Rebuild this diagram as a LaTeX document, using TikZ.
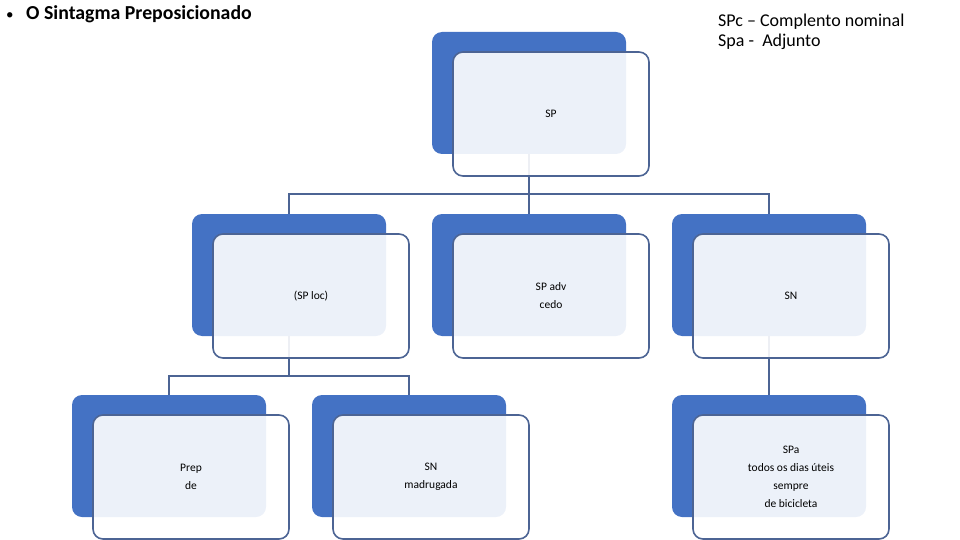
\documentclass[tikz,border=0pt]{standalone}
\usepackage{fontspec}
\setmainfont{Carlito}
\usetikzlibrary{calc}
\definecolor{accblue}{RGB}{68,114,196}
\definecolor{lineblue}{RGB}{76,100,148}
\begin{document}
\begin{tikzpicture}[x=1pt,y=-1pt,
  bluebox/.style={fill=accblue,draw=none,rounded corners=10pt,minimum width=194pt,minimum height=122pt,inner sep=0pt},
  frontbox/.style={fill=white,fill opacity=0.9,text opacity=1,draw=lineblue,line width=1.6pt,rounded corners=10pt,minimum width=196pt,minimum height=124pt,inner sep=0pt,align=center,font=\fontsize{11.5}{18}\selectfont},
  conn/.style={draw=lineblue,line width=1.6pt}]
\useasboundingbox (0,0) rectangle (960,540);
% blue back boxes
\node[bluebox] (sp) at (529,93) {};
\node[bluebox] (loc) at (289,275) {};
\node[bluebox] (adv) at (529,275) {};
\node[bluebox] (sn) at (769,275) {};
\node[bluebox] (prep) at (169,456) {};
\node[bluebox] (snm) at (409,456) {};
\node[bluebox] (spa) at (769,456) {};
% connectors
\draw[conn] (sp.south) -- ++(0,40) -| (loc.north);
\draw[conn] (sp.south) -- ++(0,40) -| (sn.north);
\draw[conn] (sp.south) -- (adv.north);
\draw[conn] (loc.south) -- ++(0,40) -| (prep.north);
\draw[conn] (loc.south) -- ++(0,40) -| (snm.north);
\draw[conn] (sn.south) -- (spa.north);
% front boxes
\node[frontbox] (spf) at ($(sp)+(22,21)$) {SP};
\node[frontbox] (locf) at ($(loc)+(22,21)$) {(SP loc)};
\node[frontbox] (advf) at ($(adv)+(22,21)$) {SP adv\\cedo};
\node[frontbox] (snf) at ($(sn)+(22,21)$) {SN};
\node[frontbox] (prepf) at ($(prep)+(22,21)$) {Prep\\de};
\node[frontbox] (snmf) at ($(snm)+(22,21)$) {SN\\madrugada};
\node[frontbox] (spaf) at ($(spa)+(22,21)$) {SPa\\todos os dias úteis\\sempre\\de bicicleta};
% texts
\node[anchor=base west,inner sep=0pt,font=\fontsize{15}{18}\selectfont] (bullet) at (6,20) {\textbullet};
\node[anchor=base west,inner sep=0pt,font=\fontsize{19.8}{22}\selectfont\bfseries] (title) at (26,20) {O Sintagma Preposicionado};
\node[anchor=base west,inner sep=0pt,font=\fontsize{18}{18}\selectfont] (leg1) at (718,27) {SPc – Complento nominal};
\node[anchor=base west,inner sep=0pt,font=\fontsize{18}{18}\selectfont] (leg2) at (718,47) {Spa -\ \ Adjunto};
\end{tikzpicture}
\end{document}
